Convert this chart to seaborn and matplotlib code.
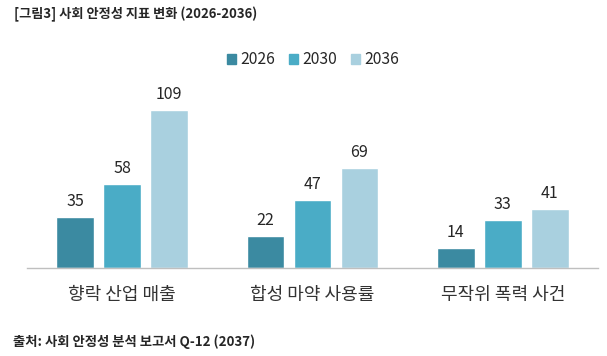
import numpy as np
import pandas as pd
import matplotlib
matplotlib.use("Agg")
import matplotlib.pyplot as plt
import seaborn as sns

# data
categories = ["향락 산업 매출", "합성 마약 사용률", "무작위 폭력 사건"]
years = ["2026", "2030", "2036"]
values_2026 = [35, 22, 14]
values_2030 = [58, 47, 33]
values_2036 = [109, 69, 41]
colors = ["#3B8AA1", "#4AACC6", "#A9D0DF"]

df = pd.DataFrame({
    "category": categories * 3,
    "year": [y for y in years for _ in categories],
    "value": values_2026 + values_2030 + values_2036,
})

sns.set_style("white")
plt.rcParams["font.family"] = ["Noto Sans CJK KR", "DejaVu Sans"]

fig = plt.figure(figsize=(6.07, 3.56), dpi=100)
ax = fig.add_axes([27 / 607, (356 - 268) / 356, 571 / 607, 181 / 356])

sns.barplot(data=df, x="category", y="value", hue="year", palette=colors,
            width=0.74, gap=0.2, saturation=1, ax=ax, legend=False)

for cont in ax.containers:
    ax.bar_label(cont, padding=5, fontsize=11.5, color="#262626")

ax.set_ylim(0, 125)
ax.set_xlim(-0.5, 2.5)
ax.set_xlabel("")
ax.set_ylabel("")
ax.set_yticks([])
ax.tick_params(axis="x", length=0, labelsize=13, pad=13, colors="#333333")
for s in ["top", "right", "left"]:
    ax.spines[s].set_visible(False)
ax.spines["bottom"].set_color("#BFBFBF")
ax.spines["bottom"].set_linewidth(1)

handles = [plt.Rectangle((0, 0), 1, 1, color=c) for c in colors]
fig.legend(handles, years, loc="center", bbox_to_anchor=(313 / 607, 1 - 60 / 356),
           ncol=3, frameon=False, fontsize=11.3, handlelength=0.57, handleheight=0.57,
           handletextpad=0.32, columnspacing=0.85, labelcolor="#262626")

fig.text(14 / 607, 1 - 14 / 356, "[그림3] 사회 안정성 지표 변화 (2026-2036)",
         fontsize=9.5, fontweight="bold", va="center", ha="left", color="#262626")
fig.text(13 / 607, 1 - 342 / 356, "출처: 사회 안정성 분석 보고서 Q-12 (2037)",
         fontsize=9.6, fontweight="bold", va="center", ha="left", color="#262626")

fig.savefig("out.png", dpi=100)
